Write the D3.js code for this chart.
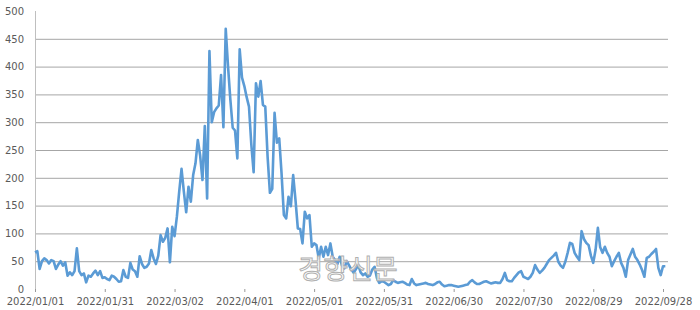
<!DOCTYPE html>
<html>
<head>
<meta charset="utf-8">
<script src="https://cdn.jsdelivr.net/npm/d3@7"></script>
<style>
  body { margin: 0; background: #fff; }
  #chart-area text { font-family: "DejaVu Sans", sans-serif; }
</style>
</head>
<body>
<div id="chart-area"></div>
<script>
// daily counts, one array per month (2022/01/01 .. 2022/09/29)
const jan = [66, 68, 36, 50, 55, 52, 46, 52, 50, 36, 44, 50, 42, 48, 24, 30, 25, 32, 73, 32, 25, 28, 12, 24, 22, 28, 33, 25, 32, 20, 21];
const feb = [18, 16, 24, 22, 18, 13, 14, 34, 22, 20, 47, 35, 32, 22, 59, 45, 38, 40, 46, 70, 55, 45, 60, 97, 85, 92, 109, 48];
const mar = [112, 95, 130, 175, 216, 175, 138, 184, 157, 205, 226, 268, 240, 196, 293, 163, 428, 300, 318, 325, 330, 385, 291, 468, 400, 340, 290, 285, 235, 431, 380];
const apr = [365, 345, 328, 260, 210, 370, 346, 374, 331, 328, 238, 173, 180, 317, 263, 271, 208, 133, 127, 166, 149, 205, 160, 109, 108, 82, 139, 127, 133, 76];
const may = [82, 79, 55, 76, 58, 76, 61, 82, 58, 52, 45, 58, 42, 37, 50, 43, 35, 29, 36, 43, 30, 25, 28, 22, 24, 35, 40, 20, 11, 14, 13];
const jun = [10, 7, 9, 16, 13, 11, 12, 13, 11, 8, 7, 18, 10, 7, 8, 9, 10, 11, 9, 8, 7, 9, 12, 13, 8, 5, 6, 7, 7, 6];
const jul = [5, 4, 5, 6, 7, 8, 13, 16, 12, 9, 9, 11, 13, 14, 12, 10, 11, 12, 11, 11, 18, 29, 16, 14, 14, 20, 25, 30, 32, 22, 20];
const aug = [18, 22, 29, 43, 35, 29, 33, 38, 45, 52, 56, 60, 65, 49, 42, 38, 49, 65, 83, 81, 65, 58, 52, 104, 90, 83, 79, 60, 47, 70, 110];
const sep = [75, 65, 76, 65, 58, 41, 50, 58, 65, 47, 38, 22, 52, 62, 72, 58, 52, 44, 34, 22, 56, 58, 63, 67, 72, 38, 25, 41, 41];

const yTicks = [0, 50, 100, 150, 200, 250, 300, 350, 400, 450, 500];
const xTickLabels = ['2022/01/01', '2022/01/31', '2022/03/02', '2022/04/01', '2022/05/01',
  '2022/05/31', '2022/06/30', '2022/07/30', '2022/08/29', '2022/09/28'];
const watermark = '경향신문';

const parseDate = d3.timeParse('%Y/%m/%d');

const drawChart = (points) => {
  const chartSize = { width: 700, height: 310 };
  const margin = { left: 35, right: 37, top: 11, bottom: 21 };

  const width = 628;
  const height = chartSize.height - margin.top - margin.bottom;

  const svg = d3.select('#chart-area')
    .append('svg')
    .attr('width', chartSize.width)
    .attr('height', chartSize.height);

  const g = svg.append('g')
    .attr('transform', `translate(${margin.left},${margin.top})`);

  const tickDates = xTickLabels.map(parseDate);

  const x = d3.scaleTime()
    .domain([tickDates[0], tickDates[tickDates.length - 1]])
    .range([0, width]);

  const y = d3.scaleLinear()
    .domain([0, 500])
    .range([height, 0]);

  // horizontal grid
  g.append('g').attr('class', 'grid')
    .selectAll('line')
    .data(yTicks.filter(t => t > 0 && t < 500))
    .enter().append('line')
    .attr('x1', 0)
    .attr('x2', width + 5)
    .attr('y1', d => y(d) + 0.5)
    .attr('y2', d => y(d) + 0.5)
    .attr('stroke', '#a6a6a6')
    .attr('stroke-width', 1);

  const y_axis = d3.axisLeft(y).tickValues(yTicks).tickSize(0).tickPadding(11);
  const yg = g.append('g').attr('class', 'y-axis').call(y_axis);
  yg.select('.domain').remove();
  yg.selectAll('text').attr('font-size', 10).attr('fill', '#5a5a5a');

  g.append('line')
    .attr('x1', 0.5).attr('x2', 0.5)
    .attr('y1', 0).attr('y2', height + 3)
    .attr('stroke', '#bfbfbf');

  const x_axis = d3.axisBottom(x)
    .tickValues(tickDates)
    .tickFormat(d3.timeFormat('%Y/%m/%d'))
    .tickSize(3)
    .tickPadding(6);
  const xg = g.append('g').attr('class', 'x-axis')
    .attr('transform', `translate(0,${height})`)
    .call(x_axis);
  xg.select('.domain').remove();
  xg.selectAll('line').attr('stroke', '#999');
  xg.selectAll('text').attr('font-size', 10).attr('fill', '#5a5a5a');

  const line = d3.line()
    .x(p => x(p.date))
    .y(p => y(p.value));

  g.append('path')
    .datum(points)
    .attr('fill', 'none')
    .attr('stroke', '#5b9bd5')
    .attr('stroke-width', 2.6)
    .attr('stroke-linejoin', 'round')
    .attr('d', line);

  // watermark sits on top of the line
  g.append('text')
    .attr('x', 313)
    .attr('y', 268)
    .attr('text-anchor', 'middle')
    .attr('font-size', 27)
    .style('font-family', '"Noto Sans CJK KR", sans-serif')
    .attr('fill', '#ffffff')
    .attr('fill-opacity', 0.8)
    .attr('stroke', '#b0b0b0')
    .attr('stroke-width', 1)
    .text(watermark);
}

const main = () => {
  const values = [...jan, ...feb, ...mar, ...apr, ...may, ...jun, ...jul, ...aug, ...sep];
  const start = parseDate(xTickLabels[0]);
  const points = values.map((value, i) => ({ date: d3.timeDay.offset(start, i), value }));
  drawChart(points);
}
window.onload = main;
</script>
</body>
</html>
